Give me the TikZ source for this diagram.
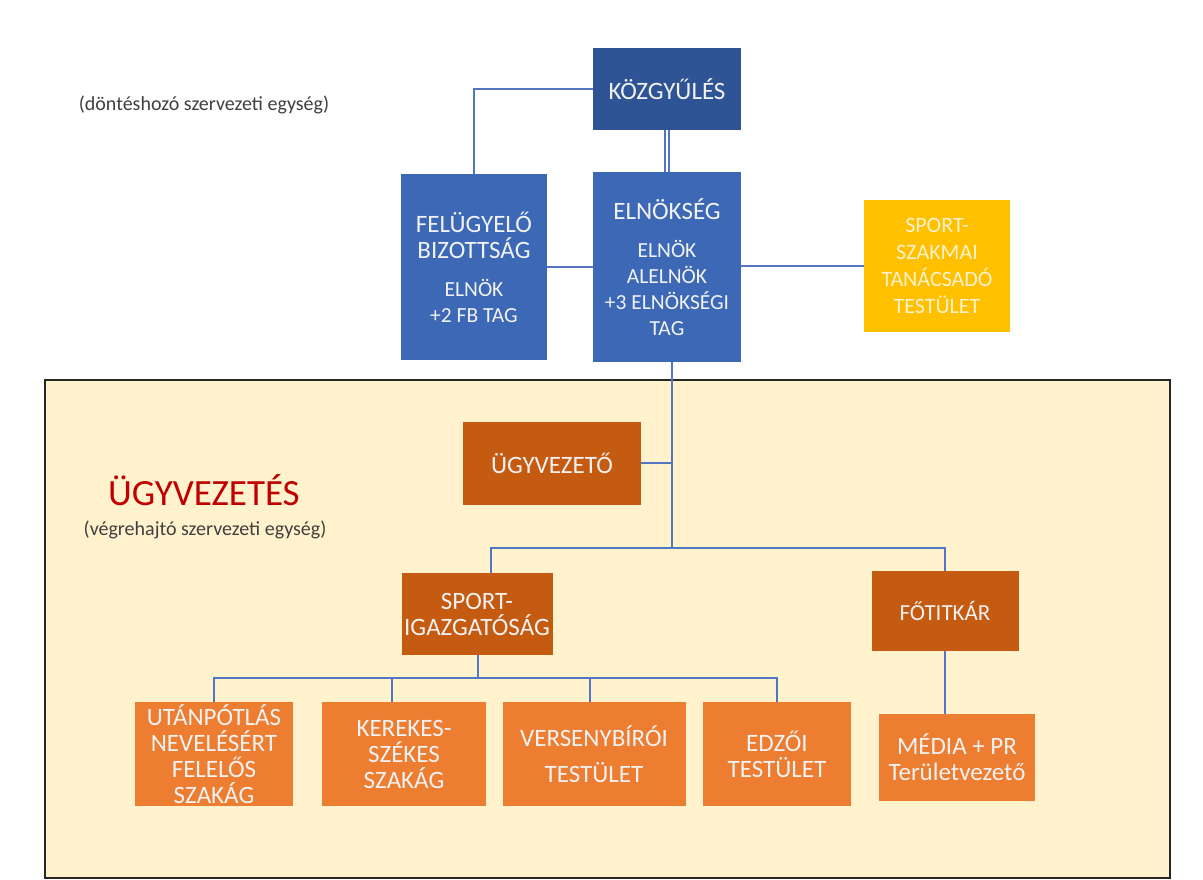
\documentclass[tikz,border=0pt]{standalone}
\usepackage{fontspec}
\setmainfont{Carlito}
\definecolor{darkblue}{RGB}{47,84,150}
\definecolor{midblue}{RGB}{60,104,182}
\definecolor{linkblue}{RGB}{82,118,196}
\definecolor{gold}{RGB}{255,192,0}
\definecolor{rust}{RGB}{197,90,17}
\definecolor{lightorange}{RGB}{237,125,49}
\definecolor{cream}{RGB}{255,242,204}
\definecolor{boxtext}{RGB}{242,242,242}
\definecolor{titlered}{RGB}{192,0,0}
\newcommand{\subfont}{\fontsize{21.5}{25}\selectfont}

\begin{document}
\begin{tikzpicture}[x=1pt, y=-1pt,
    unit/.style={inner sep=0pt, align=center, text=boxtext, font=\fontsize{25}{26}\selectfont},
    link/.style={draw=linkblue, line width=1.6pt},
    note/.style={text=black!75, font=\fontsize{20}{22}\selectfont}]
    \useasboundingbox (0,0) rectangle (1203,880);
    \fill[white] (0,0) rectangle (1203,880);
    % executive area
    \draw[fill=cream, draw=black!85, line width=2.2pt] (45,380) rectangle (1170,878);
    % decision making units
    \node[unit, fill=darkblue, minimum width=148, minimum height=82] (kozgy) at (667,89) {KÖZGYŰLÉS};
    \node[unit, fill=midblue, minimum width=146, minimum height=186] (felugy) at (474,267)
        {FELÜGYELŐ\\BIZOTTSÁG\\[12pt]\subfont ELNÖK\\\subfont +2 FB TAG};
    \node[unit, fill=midblue, minimum width=148, minimum height=190] (elnok) at (667,267)
        {ELNÖKSÉG\\[12pt]\subfont ELNÖK\\\subfont ALELNÖK\\\subfont +3 ELNÖKSÉGI\\\subfont TAG};
    \node[unit, fill=gold, text=cream, font=\fontsize{22}{27}\selectfont,
        minimum width=146, minimum height=132] (tanacs) at (937,266)
        {SPORT-\\SZAKMAI\\TANÁCSADÓ\\TESTÜLET};
    % executive units
    \node[unit, fill=rust, minimum width=178, minimum height=83] (ugyv) at (552,463) {ÜGYVEZETŐ};
    \node[unit, fill=rust, minimum width=151, minimum height=82] (igazg) at (477,614) {SPORT-\\IGAZGATÓSÁG};
    \node[unit, fill=rust, font=\fontsize{23}{26}\selectfont,
        minimum width=147, minimum height=80] (fotitk) at (945,611) {FŐTITKÁR};
    \node[unit, fill=lightorange, minimum width=158, minimum height=104] (utanp) at (214,754)
        {UTÁNPÓTLÁS\\NEVELÉSÉRT\\FELELŐS\\SZAKÁG};
    \node[unit, fill=lightorange, minimum width=164, minimum height=104] (kerek) at (404,754)
        {KEREKES-\\SZÉKES\\SZAKÁG};
    \node[unit, fill=lightorange, minimum width=183, minimum height=104] (verseny) at (594,754)
        {VERSENYBÍRÓI\\[10pt]TESTÜLET};
    \node[unit, fill=lightorange, minimum width=148, minimum height=104] (edzoi) at (777,754)
        {EDZŐI\\TESTÜLET};
    \node[unit, fill=lightorange, minimum width=156, minimum height=87] (media) at (957,757.5)
        {MÉDIA + PR\\Területvezető};
    % labels
    \node[note] (dontes) at (204,105) {(döntéshozó szervezeti egység)};
    \node[text=titlered, font=\fontsize{37}{40}\selectfont] (ugyvtitle) at (204,490) {ÜGYVEZETÉS};
    \node[note] (vegreh) at (205,530) {(végrehajtó szervezeti egység)};
    % connectors
    \coordinate (split) at (672,548);
    \coordinate (branch) at (478,678);
    \draw[link] (kozgy.west) -| (felugy.north);
    \draw[link] ([xshift=-2pt]kozgy.south) -- ([xshift=-2pt]kozgy.south |- elnok.north);
    \draw[link] ([xshift=2pt]kozgy.south) -- ([xshift=2pt]kozgy.south |- elnok.north);
    \draw[link] (felugy.east) -- (felugy.east -| elnok.west);
    \draw[link] (elnok.east |- tanacs.west) -- (tanacs.west);
    \draw[link] (elnok.south -| split) -- (split);
    \draw[link] (ugyv.east) -- (ugyv.east -| split);
    \draw[link] (split) -| (491,573);
    \draw[link] (split) -| (fotitk.north);
    \draw[link] (igazg.south -| branch) -- (branch);
    \draw[link] (branch) -| (utanp.north);
    \draw[link] (branch) -| (edzoi.north);
    \draw[link] (392,678) -- (392,702);
    \draw[link] (590,678) -- (590,702);
    \draw[link] (fotitk.south) -- (media.north -| fotitk.south);
\end{tikzpicture}
\end{document}
